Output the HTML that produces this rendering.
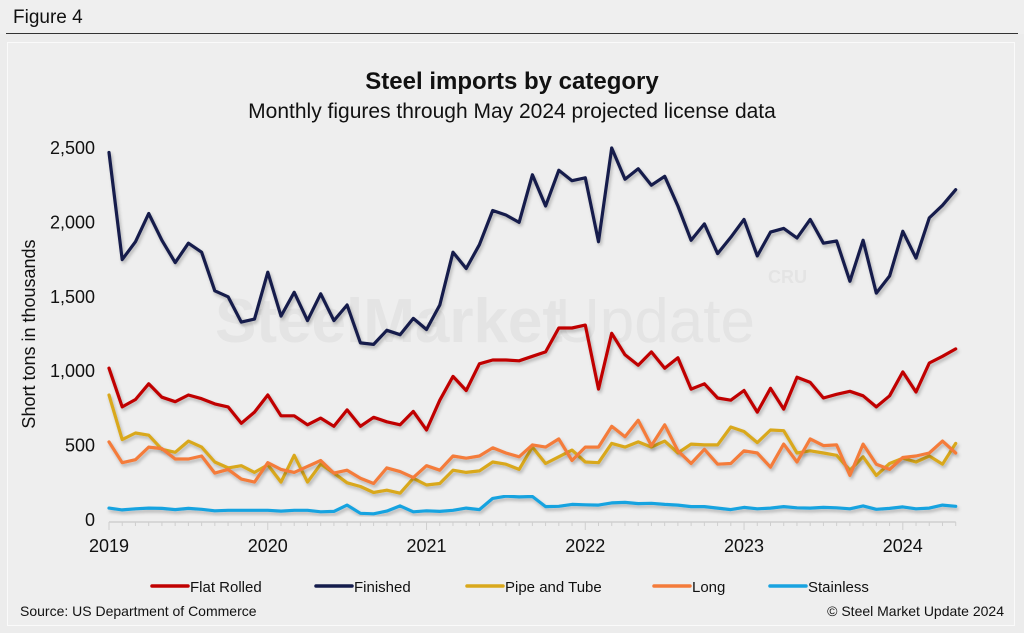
<!DOCTYPE html>
<html><head><meta charset="utf-8"><style>
html,body{margin:0;padding:0;background:#ececec;width:1024px;height:633px;overflow:hidden;font-family:"Liberation Sans",sans-serif;}
#hdr{position:absolute;left:0;top:0;width:1024px;height:34px;background:#efefef;}
#hdr span{position:absolute;left:13px;top:7px;font-size:19px;color:#111;}
#rule{position:absolute;left:6px;top:33px;width:1012px;height:1px;background:#333;}
#panel{position:absolute;left:7px;top:42px;width:1008px;height:584px;background:#eeeeee;border:1px solid #fafafa;box-sizing:border-box;}
svg{position:absolute;left:0;top:0;}
</style></head><body>
<div id="hdr"><span>Figure 4</span></div>
<div id="rule"></div>
<div id="panel"></div>
<svg id="chart" width="1024" height="633">
<defs><filter id="sh" x="-5%" y="-5%" width="110%" height="120%"><feDropShadow dx="1.5" dy="2.5" stdDeviation="1.5" flood-color="#000" flood-opacity="0.25"/></filter></defs>
<g fill="#e4e4e4" font-family="Liberation Sans, sans-serif">
<text x="215" y="342" font-size="62" font-weight="bold">SteelMarket</text>
<text x="555" y="342" font-size="62">Update</text>
<text x="768" y="283" font-size="18" font-weight="bold">CRU</text>
</g>
<text x="512" y="89" text-anchor="middle" font-size="24" font-weight="bold" fill="#111">Steel imports by category</text>
<text x="512" y="118" text-anchor="middle" font-size="21" fill="#111">Monthly figures through May 2024 projected license data</text>
<text transform="translate(35,334) rotate(-90)" text-anchor="middle" font-size="18" fill="#111">Short tons in thousands</text>
<g id="yt"></g><g id="xt"></g><g id="series"></g><g id="legend"></g>
<text x="20" y="616" font-size="14" fill="#111">Source: US Department of Commerce</text>
<text x="1004" y="616" text-anchor="end" font-size="14" fill="#111">© Steel Market Update 2024</text>
</svg>
<script>
const yTicks=[0,500,1000,1500,2000,2500];
const yTickLabels=["0","500","1,000","1,500","2,000","2,500"];
const xYears=["2019","2020","2021","2022","2023","2024"];
const seriesNames=["Flat Rolled","Finished","Pipe and Tube","Long","Stainless"];
const seriesColors=["#c00000","#141c4c","#d9a81c","#f47b3a","#19a3e0"];
const flatRolled=[1020,760,810,915,825,795,840,815,780,760,650,725,840,700,700,640,685,630,740,630,690,660,640,730,605,805,965,870,1050,1075,1075,1070,1100,1130,1290,1290,1310,880,1255,1110,1040,1130,1020,1090,880,915,820,805,870,725,885,745,960,925,820,845,865,835,760,835,995,860,1055,1100,1150];
const finished=[2470,1750,1870,2060,1880,1730,1860,1800,1540,1500,1330,1350,1665,1370,1530,1340,1520,1340,1445,1190,1180,1275,1245,1355,1280,1445,1800,1690,1850,2080,2050,2000,2320,2110,2350,2280,2300,1870,2500,2290,2360,2250,2310,2110,1880,1990,1790,1900,2020,1775,1935,1960,1895,2020,1860,1875,1605,1880,1525,1640,1940,1760,2030,2115,2220];
const pipeTube=[840,540,585,570,475,455,530,490,390,350,365,320,370,255,435,255,375,315,250,225,185,200,180,280,235,245,335,320,330,390,375,340,490,380,425,470,390,385,515,490,525,490,530,450,510,505,505,625,595,520,605,600,450,465,450,435,335,425,300,380,415,390,430,375,515];
const longP=[525,385,405,490,480,410,410,430,315,340,275,255,385,340,320,360,400,315,335,280,245,350,325,285,365,335,430,415,430,485,450,425,505,490,545,400,490,490,630,560,670,500,640,465,380,475,375,380,465,450,355,510,390,545,500,505,300,510,375,340,420,430,450,530,450];
const stainless=[80,68,75,80,78,70,78,72,62,65,65,65,65,60,65,65,55,58,100,45,42,60,95,55,62,58,65,80,70,145,160,155,158,90,92,105,102,100,115,118,110,112,105,100,90,90,80,70,85,75,80,90,82,80,85,82,75,95,72,78,88,75,80,100,92];
const allSeries=[flatRolled,finished,pipeTube,longP,stainless];
const NS="http://www.w3.org/2000/svg";
const x0=109,monthW=13.23,yBase=520,yTop=148,yMax=2500;
function xs(i){return x0+i*monthW;}
function ys(v){return yBase-(v/yMax)*(yBase-yTop);}
function mk(tag,attrs,parent){const e=document.createElementNS(NS,tag);for(const k in attrs)e.setAttribute(k,attrs[k]);parent.appendChild(e);return e;}
const yt=document.getElementById('yt');
yTicks.forEach((v,i)=>{const t=mk('text',{x:95,y:ys(v)+6,'text-anchor':'end','font-size':18,fill:'#111'},yt);t.textContent=yTickLabels[i];

});
const xt=document.getElementById('xt');
const ax=mk('line',{x1:x0,x2:xs(64),y1:522,y2:522,stroke:'#cfcfcf','stroke-width':1.5},xt);


for(let i=0;i<=64;i++){const tk=mk('line',{x1:xs(i),x2:xs(i),y1:522,y2:i%12==0?530:526,stroke:'#cfcfcf','stroke-width':1},xt);

}
xYears.forEach((y,i)=>{const t=mk('text',{x:xs(i*12),y:552,'text-anchor':'middle','font-size':18,fill:'#111'},xt);t.textContent=y;

});
const sg=document.getElementById('series');
const order=[4,2,3,0,1];
order.forEach(s=>{const pts=allSeries[s].map((v,i)=>xs(i).toFixed(1)+','+ys(v).toFixed(1)).join(' ');
const p=mk('polyline',{points:pts,fill:'none',stroke:seriesColors[s],'stroke-width':3.2,'stroke-linejoin':'round','stroke-linecap':'round',filter:'url(#sh)'},sg);

});
const lg=document.getElementById('legend');
const lx=[152,316,467,654,770];
seriesNames.forEach((n,i)=>{const g=mk('g',{},lg);


mk('line',{x1:lx[i],x2:lx[i]+36,y1:586,y2:586,stroke:seriesColors[i],'stroke-width':3.5,'stroke-linecap':'round'},g);
const t=mk('text',{x:lx[i]+38,y:592,'font-size':15,fill:'#111'},g);t.textContent=n;});
</script>
</body></html>
